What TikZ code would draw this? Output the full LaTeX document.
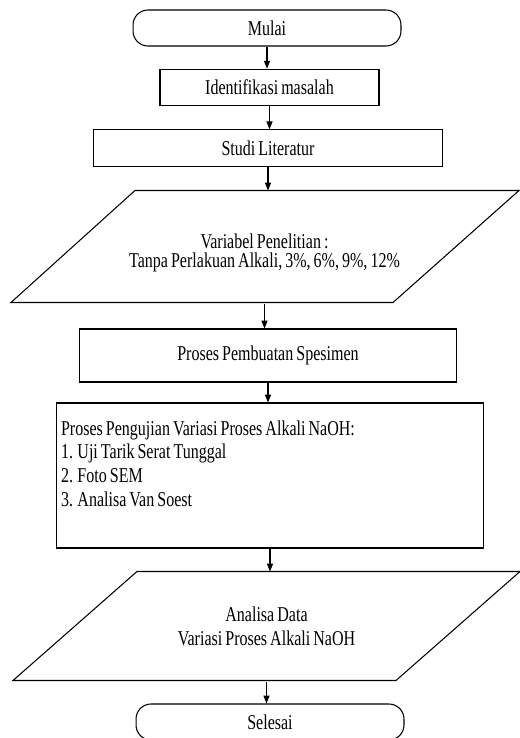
\documentclass[tikz,border=0pt]{standalone}
\usepackage{fontspec}
\setmainfont{Liberation Serif}[FakeStretch=0.76, WordSpace=0.76]
\usetikzlibrary{arrows.meta}

\begin{document}
\begin{tikzpicture}[x=0.02cm, y=-0.02cm,
    line width=0.6pt,
    every node/.style={font=\fontsize{12}{13.6}\selectfont},
    terminal/.style={draw, rounded corners=0.3cm, minimum width=5.36cm, minimum height=0.72cm},
    prosesbox/.style={draw, minimum height=0.73cm},
    datain/.style={minimum width=5cm},
    arr/.style={-{Triangle[length=4.5pt,width=3.5pt]}}]
    \useasboundingbox (0,0) rectangle (520,738);

    % Alur utama
    \node[terminal] (mulai) at (267,28) {Mulai};
    \node[prosesbox, minimum width=4.38cm] (ident) at (269.5,87.5) {Identifikasi masalah};
    \node[prosesbox, minimum width=7cm] (studi) at (268,148) {Studi Literatur};

    \node[datain, minimum height=2.24cm] (var) at (264.5,247) {};
    \draw (var.north) ++(-129.5,0) -- ++(384,0) -- ++(-126,112) -- ++(-382,0) -- cycle;
    \node[align=center, font=\fontsize{12}{10.8}\selectfont] (vartext) at (264.5,253)
        {Variabel Penelitian :\\Tanpa Perlakuan Alkali, 3\%, 6\%, 9\%, 12\%};

    \node[prosesbox, minimum width=7.56cm, minimum height=1.06cm] (buat) at (268,355.5) {Proses Pembuatan Spesimen};

    \node[draw, minimum width=8.56cm, minimum height=2.9cm, inner xsep=0.1cm,
          text width=8.36cm, align=flush left] (uji) at (270,475.5)
        {Proses Pengujian Variasi Proses Alkali NaOH:\\
         1. Uji Tarik Serat Tunggal\\
         2. Foto SEM\\
         3. Analisa Van Soest\\
         \mbox{}};

    \node[datain, minimum height=2.18cm, align=center] (analisa) at (266.5,626.5)
        {Analisa Data\\Variasi Proses Alkali NaOH};
    \draw (analisa.north) ++(-129.5,0) -- ++(383,0) -- ++(-124,109) -- ++(-383,0) -- cycle;

    \node[terminal] (selesai) at (270,722) {Selesai};

    % Panah
    \foreach \a/\b in {mulai/ident, ident/studi, studi/var, var/buat, buat/uji, uji/analisa, analisa/selesai} {
        \draw[arr] (\a.south) -- (\a.south |- \b.north);
    }
\end{tikzpicture}
\end{document}
